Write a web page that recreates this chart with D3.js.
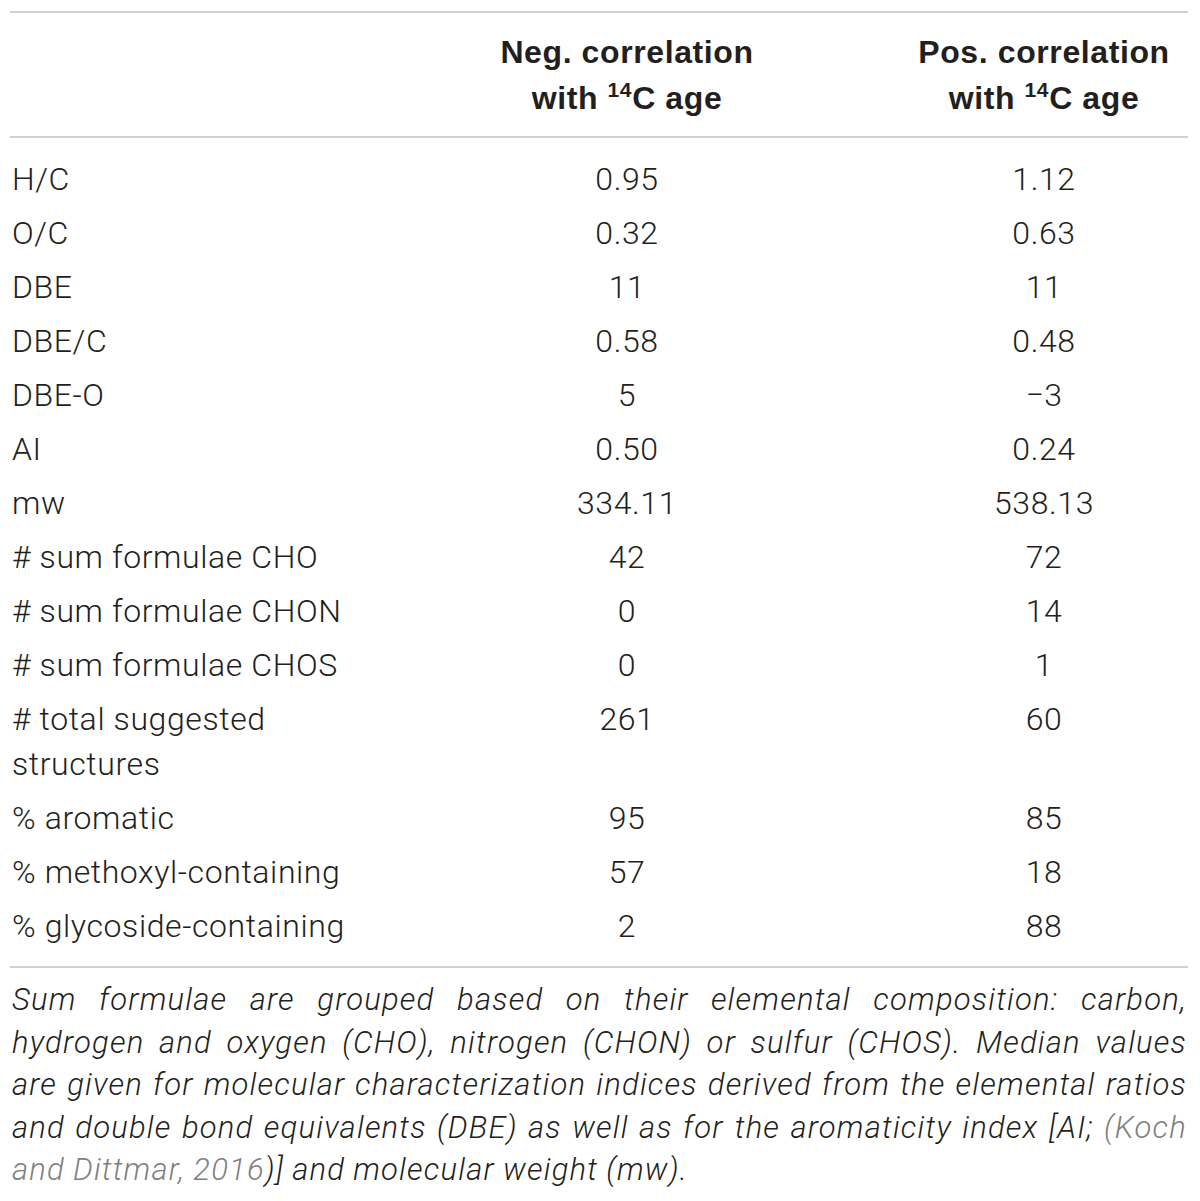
<!DOCTYPE html>
<html>
<head>
<meta charset="utf-8">
<script src="https://cdn.jsdelivr.net/npm/d3@7"></script>
<style>
  html, body { margin: 0; padding: 0; background: #fff; }
  svg { display: block; }
</style>
</head>
<body>
<svg id="chart" width="1200" height="1201"></svg>
<script>
// ---- Data ----
const headerNeg = ["Neg. correlation", "with "];
const headerPos = ["Pos. correlation", "with "];
const headerSup = "14";
const headerTail = "C age";

const rowLabels = [
  ["H/C"], ["O/C"], ["DBE"], ["DBE/C"], ["DBE-O"], ["AI"], ["mw"],
  ["# sum formulae CHO"], ["# sum formulae CHON"], ["# sum formulae CHOS"],
  ["# total suggested", "structures"],
  ["% aromatic"], ["% methoxyl-containing"], ["% glycoside-containing"]
];
const negValues = ["0.95", "0.32", "11", "0.58", "5", "0.50", "334.11", "42", "0", "0", "261", "95", "57", "2"];
const posValues = ["1.12", "0.63", "11", "0.48", "\u22123", "0.24", "538.13", "72", "14", "1", "60", "85", "18", "88"];

// footnote lines: arrays of [text, isLink]
const footLines = [
  [["Sum formulae are grouped based on their elemental composition: carbon,", false]],
  [["hydrogen and oxygen (CHO), nitrogen (CHON) or sulfur (CHOS). Median values", false]],
  [["are given for molecular characterization indices derived from the elemental ratios", false]],
  [["and double bond equivalents (DBE) as well as for the aromaticity index [AI;", false], ["(Koch", true]],
  [["and Dittmar, 2016", true], [")] and molecular weight (mw).", false]]
];

// ---- Layout ----
const svg = d3.select("#chart");
const left = 10, right = 1188;
const textColor = "#231f20";
const ruleColor = "#d0d0d0";
const bodyFont = "'Roboto', 'Liberation Sans', sans-serif";
const headFont = "'Liberation Sans', Arial, sans-serif";

const colX = d3.scaleOrdinal().domain(["neg", "pos"]).range([627, 1044]);

// rules
const rules = [12, 137, 967];
svg.selectAll("line.rule").data(rules).join("line")
  .attr("class", "rule")
  .attr("x1", left).attr("x2", right)
  .attr("y1", d => d).attr("y2", d => d)
  .attr("stroke", ruleColor).attr("stroke-width", 2);

// header
function header(lines, key) {
  const t = svg.append("text")
    .attr("x", colX(key)).attr("text-anchor", "middle")
    .attr("font-family", headFont).attr("font-weight", "bold")
    .attr("font-size", 32).attr("letter-spacing", 0.6).attr("fill", textColor);
  t.append("tspan").attr("x", colX(key)).attr("y", 63).text(lines[0]);
  t.append("tspan").attr("x", colX(key)).attr("y", 109).text(lines[1]);
  t.append("tspan").attr("font-size", 21).attr("dy", -12).text(headerSup);
  t.append("tspan").attr("dy", 12).text(headerTail);
}
header(headerNeg, "neg");
header(headerPos, "pos");

// rows: compute baselines
const firstBase = 190, rowStep = 54, lineStep = 45;
const baselines = [];
let yb = firstBase;
rowLabels.forEach((r, i) => {
  baselines.push(yb);
  yb += rowStep + (r.length - 1) * lineStep;
});
const rowY = d3.scaleOrdinal().domain(d3.range(rowLabels.length)).range(baselines);

const rows = svg.selectAll("g.row").data(rowLabels.map((l, i) => ({l, i})))
  .join("g").attr("class", "row")
  .attr("font-family", bodyFont).attr("font-weight", 300)
  .attr("font-size", 32).attr("letter-spacing", 0.6).attr("fill", textColor);

rows.append("text")
  .attr("x", 12)
  .attr("y", d => rowY(d.i))
  .selectAll("tspan").data(d => d.l.map((s, k) => ({s, k, i: d.i})))
  .join("tspan")
  .attr("x", 12)
  .attr("y", d => rowY(d.i) + d.k * lineStep)
  .text(d => d.s);

rows.append("text")
  .attr("x", colX("neg")).attr("text-anchor", "middle")
  .attr("y", d => rowY(d.i))
  .text(d => negValues[d.i]);

rows.append("text")
  .attr("x", colX("pos")).attr("text-anchor", "middle")
  .attr("y", d => rowY(d.i))
  .text(d => posValues[d.i]);

// footnote (justified)
const footBase = 1010, footStep = 42.5, footLeft = 12, footRight = 1187;
const footG = svg.append("g")
  .attr("font-family", bodyFont).attr("font-weight", 300)
  .attr("font-style", "italic").attr("font-size", 31).attr("letter-spacing", 1.2);

footLines.forEach((segs, li) => {
  const y = footBase + li * footStep;
  const words = [];
  segs.forEach(([txt, link]) => {
    txt.split(" ").forEach(w => { if (w.length) words.push({w, link}); });
  });
  const t = footG.append("text").attr("y", y);
  const spans = words.map(d => t.append("tspan")
    .attr("fill", d.link ? "#808080" : textColor).text(d.w));
  const widths = spans.map(s => s.node().getComputedTextLength());
  const total = d3.sum(widths);
  const attach = words.map((d, k) => k > 0 && !d.link && words[k - 1].link && /^\)/.test(d.w));
  const gaps = attach.filter((a, k) => k > 0 && !a).length;
  const isLast = li === footLines.length - 1;
  const spaceW = 8;
  const gap = isLast ? spaceW : Math.max(spaceW, (footRight - footLeft - total) / gaps);
  let x = footLeft;
  spans.forEach((s, k) => {
    if (k > 0) x += attach[k] ? 0 : gap;
    s.attr("x", x);
    x += widths[k];
  });
});
</script>
</body>
</html>
